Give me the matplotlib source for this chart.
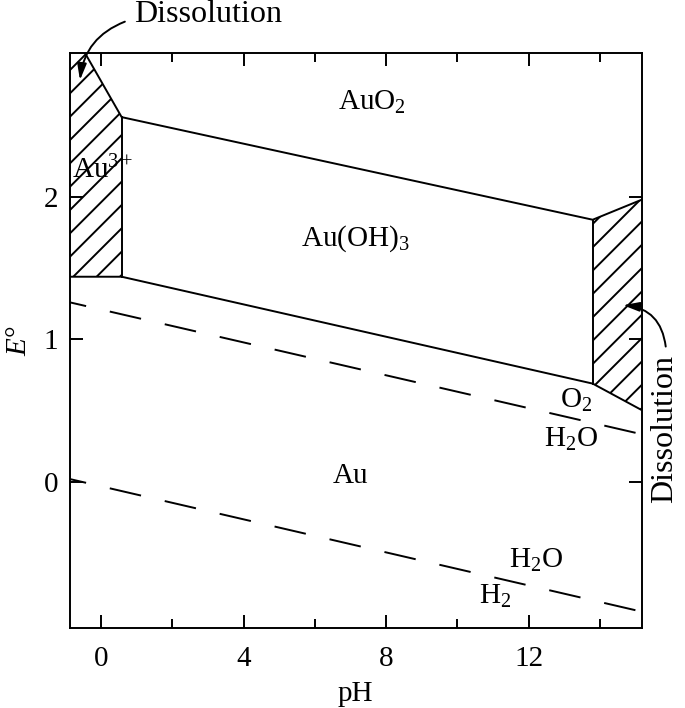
"""
Pourbaix (E-pH) diagram for gold, redrawn with matplotlib
"""
import matplotlib
matplotlib.use("Agg")
import matplotlib.pyplot as plt
from matplotlib.patches import Polygon

plt.rcParams['font.family'] = ['Liberation Serif', 'DejaVu Serif']
plt.rcParams['mathtext.fontset'] = 'custom'
plt.rcParams['mathtext.rm'] = 'Liberation Serif'
plt.rcParams['mathtext.it'] = 'Liberation Serif:italic'
plt.rcParams['hatch.linewidth'] = 1.0
plt.rcParams['lines.scale_dashes'] = False

# axis range
ph_lim = [-0.87, 15.17]
e_lim = [-1.025, 3.01]

# Au / Au(OH)3 lower boundary (then Au / dissolved species)
ph_low = [-0.87, 0.58, 13.8, 15.17]
e_low = [1.44, 1.44, 0.69, 0.505]

# Au3+ / Au(OH)3 / AuO2 upper boundary
ph_up = [-0.45, 0.58, 13.8, 15.17]
e_up = [3.01, 2.56, 1.84, 1.98]

# water stability lines
ph_water = [-0.87, 15.17]
e_o2 = [1.26, 0.335]
e_h2 = [0.02, -0.91]

x_major = [0, 4, 8, 12]
x_minor = [2, 6, 10, 14]
y_major = [0, 1, 2]

# region labels: (text, pH, E)
labels = [
    (r'AuO$_2$', 7.6, 2.66),
    (r'Au(OH)$_3$', 7.15, 1.71),
    (r'Au$^{3+}$', 0.05, 2.19),
    ('Au', 7.0, 0.04),
    (r'O$_2$', 13.33, 0.57),
    (r'H$_2$O', 13.2, 0.3),
    (r'H$_2$O', 12.2, -0.55),
    (r'H$_2$', 11.05, -0.8),
]

FS = 15
FS_NOTE = 16.5
fig = plt.figure(figsize=(685 / 140, 708 / 140), dpi=140)
ax = fig.add_axes([70 / 685, 1 - 628 / 708, 571.5 / 685, 575 / 708])

# hatched dissolution regions
left_region = [(ph_lim[0], e_low[0]), (ph_low[1], e_low[1]), (ph_up[1], e_up[1]),
               (ph_up[0], e_up[0]), (ph_lim[0], e_lim[1])]
right_region = [(ph_low[2], e_low[2]), (ph_up[2], e_up[2]),
                (ph_up[3], e_up[3]), (ph_low[3], e_low[3])]
for pts in (left_region, right_region):
    ax.add_patch(Polygon(pts, closed=True, facecolor='none', edgecolor='black',
                         lw=0, hatch='//'))

lw = 1.0
ax.plot(ph_low, e_low, color='black', lw=lw)
ax.plot(ph_up, e_up, color='black', lw=lw)
ax.plot([ph_low[1], ph_up[1]], [e_low[1], e_up[1]], color='black', lw=lw)
ax.plot([ph_low[2], ph_up[2]], [e_low[2], e_up[2]], color='black', lw=lw)

for e_line in (e_o2, e_h2):
    ax.plot(ph_water, e_line, color='black', lw=lw,
            linestyle=(8, (16.5, 12.5)))

for txt, x, y in labels:
    ax.text(x, y, txt, fontsize=FS, ha='center', va='center')

# dissolution annotations
arrow = dict(arrowstyle='-|>,head_length=0.7,head_width=0.2', color='black',
             lw=1.0, shrinkA=0, shrinkB=0)
ax.text(3.0, 3.28, 'Dissolution', fontsize=FS_NOTE, ha='center', va='center',
        clip_on=False)
ax.annotate('', xy=(-0.59, 2.82), xytext=(0.67, 3.23),
            arrowprops=dict(arrow, connectionstyle='arc3,rad=0.3'),
            annotation_clip=False)
ax.text(15.83, 0.37, 'Dissolution', fontsize=FS_NOTE, ha='center', va='center',
        rotation=90, clip_on=False)
ax.annotate('', xy=(14.65, 1.24), xytext=(15.85, 0.95),
            arrowprops=dict(arrow, connectionstyle='arc3,rad=0.4'),
            annotation_clip=False)

ax.set_xlim(ph_lim)
ax.set_ylim(e_lim)
ax.set_xticks(x_major)
ax.set_xticks(x_minor, minor=True)
ax.set_yticks(y_major)
ax.tick_params(which='both', direction='in', top=True, right=True,
               labelsize=FS, width=1.0)
ax.tick_params(which='major', length=6.7)
ax.tick_params(which='minor', length=4.6)
ax.tick_params(axis='x', pad=9)
ax.tick_params(axis='y', pad=6)
for sp in ax.spines.values():
    sp.set_linewidth(1.0)

ax.set_xlabel('pH', fontsize=FS, labelpad=5)
ax.set_ylabel(r'$E$°', fontsize=FS, labelpad=6)

fig.savefig('out.png', dpi=140)
